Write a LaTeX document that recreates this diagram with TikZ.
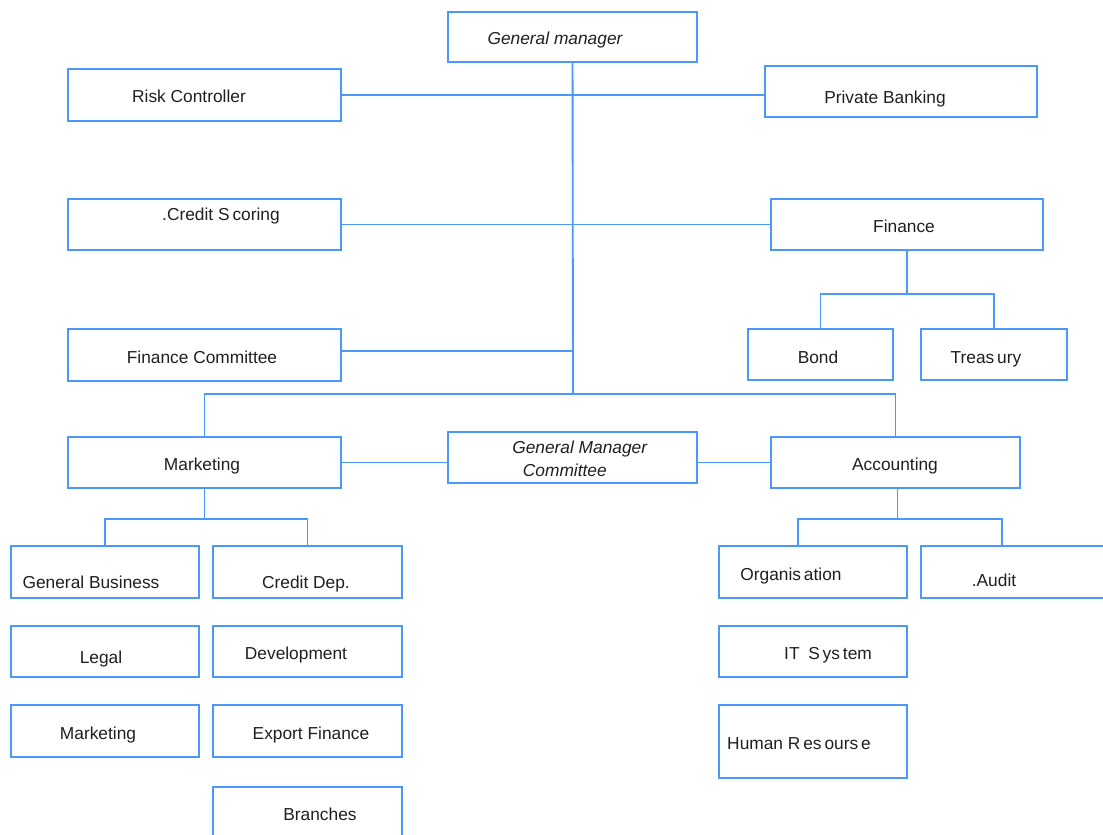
\documentclass[tikz,border=0pt]{standalone}
\usepackage{fontspec}
\setmainfont{Liberation Sans}
\usetikzlibrary{fit}

\definecolor{orgblue}{RGB}{74,152,250}

\begin{document}
\begin{tikzpicture}[x=0.75pt, y=-0.75pt,
  box/.style = {rectangle, draw=orgblue, line width=0.9pt, inner sep=0pt},
  unit/.style = {font=\fontsize{13}{15.5}\selectfont, text=black!88,
    inner sep=0pt, text height=0.72em, text depth=0.2em, yshift=-2.2pt},
  link/.style = {draw=orgblue, line width=1.4pt}]
  \useasboundingbox (0,0) rectangle (1103,835);

  % boxes
  \node[box, fit={(448,12) (697,62)}] (gm) {};
  \node[box, fit={(68,69) (341,121)}] (risk) {};
  \node[box, fit={(765,66) (1037,117)}] (private) {};
  \node[box, fit={(68,199) (341,250)}] (scoring) {};
  \node[box, fit={(771,199) (1043,250)}] (finance) {};
  \node[box, fit={(68,329) (341,381)}] (fincom) {};
  \node[box, fit={(748,329) (893,380)}] (bond) {};
  \node[box, fit={(921,329) (1067,380)}] (treasury) {};
  \node[box, fit={(68,437) (341,488)}] (mkt) {};
  \node[box, fit={(448,432) (697,483)}] (gmc) {};
  \node[box, fit={(771,437) (1020,488)}] (acc) {};
  \node[box, fit={(11,546) (199,598)}] (genbus) {};
  \node[box, fit={(213,546) (402,598)}] (creditdep) {};
  \node[box, fit={(11,626) (199,677)}] (legal) {};
  \node[box, fit={(213,626) (402,677)}] (dev) {};
  \node[box, fit={(11,705) (199,757)}] (mktg) {};
  \node[box, fit={(213,705) (402,757)}] (export) {};
  \node[box, fit={(213,787) (402,845)}] (branches) {};
  \node[box, fit={(719,546) (907,598)}] (org) {};
  \node[box, fit={(921,546) (1112,598)}] (audit) {};
  \node[box, fit={(719,626) (907,677)}] (itsys) {};
  \node[box, fit={(719,705) (907,778)}] (hr) {};

  % texts
  \node[unit, font=\fontsize{13}{15.5}\selectfont\itshape] (gm-t) at (555,38) {General manager};
  \node[unit] (risk-t) at (189,96) {Risk Controller};
  \node[unit] (private-t) at (885,97) {Private Banking};
  \node[unit] (scoring-t) at (221,214) {.Credit S\,coring};
  \node[unit] (finance-t) at (904,226) {Finance};
  \node[unit] (fincom-t) at (202,357) {Finance Committee};
  \node[unit] (bond-t) at (818,357) {Bond};
  \node[unit] (treasury-t) at (986,357) {Treas\,ury};
  \node[unit] (mkt-t) at (202,464) {Marketing};
  \node[unit, font=\fontsize{13}{17}\selectfont\itshape, align=left, anchor=west,
    text height=, text depth=] (gmc-t) at (512,456) {General Manager\\\hspace*{8pt}Committee};
  \node[unit] (acc-t) at (895,464) {Accounting};
  \node[unit] (genbus-t) at (91,582) {General Business};
  \node[unit] (creditdep-t) at (306,582) {Credit Dep.};
  \node[unit] (legal-t) at (101,657) {Legal};
  \node[unit] (dev-t) at (296,653) {Development};
  \node[unit] (mktg-t) at (98,733) {Marketing};
  \node[unit] (export-t) at (311,733) {Export Finance};
  \node[unit] (branches-t) at (320,814) {Branches};
  \node[unit] (org-t) at (791,574) {Organis\,ation};
  \node[unit] (audit-t) at (994,580) {.Audit};
  \node[unit] (itsys-t) at (828,653) {IT\enspace S\,ys\,tem};
  \node[unit] (hr-t) at (799,743) {Human R\,es\,ours\,e};

  % connectors
  \coordinate (hub) at (573,394);
  \draw[link] (gm) -- (hub);
  \draw[link] (risk.east) -- (risk.east -| private.west);
  \draw[link] (scoring.east) -- (scoring.east -| finance.west);
  \draw[link] ([yshift=3pt]fincom.east) -- ([yshift=3pt]fincom.east -| hub);
  \draw[link] (mkt.north) |- (hub) -| (acc.north);
  \draw[link] (mkt.east) -- (mkt.east -| gmc.west);
  \draw[link] (acc.west -| gmc.east) -- (acc.west);
  \draw[link] (finance.south) -- ++(0,43) coordinate (fj);
  \draw[link] (bond.north) |- (fj) -| (treasury.north);
  \draw[link] (mkt.south) -- ++(0,30) coordinate (mj);
  \draw[link] (genbus.north) |- (mj) -| (creditdep.north);
  \draw[link] (acc.south) ++(2,0) -- ++(0,30) coordinate (aj);
  \draw[link] ([xshift=-11pt]org.north) |- (aj) -| ([xshift=-11pt]audit.north);
\end{tikzpicture}
\end{document}
